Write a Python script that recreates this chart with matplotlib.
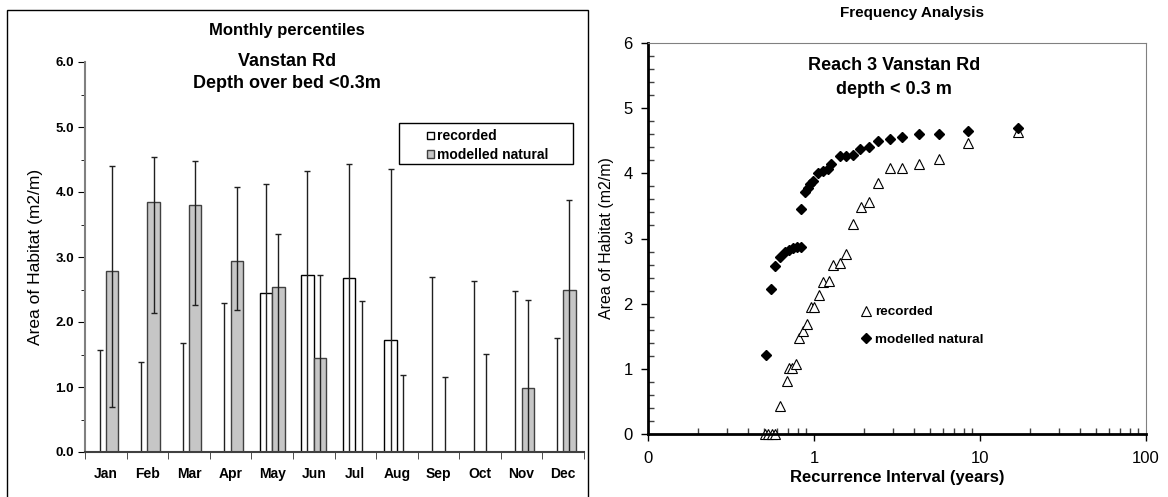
import matplotlib.pyplot as plt
import numpy as np
from matplotlib.patches import Rectangle
from matplotlib.ticker import MultipleLocator, LogLocator, NullFormatter

plt.rcParams['font.family'] = ['Liberation Sans', 'DejaVu Sans']

# ---- monthly percentiles (left) ----
months = ['Jan', 'Feb', 'Mar', 'Apr', 'May', 'Jun', 'Jul', 'Aug', 'Sep', 'Oct', 'Nov', 'Dec']
rec_median = [0, 0, 0, 0, 2.45, 2.73, 2.67, 1.72, 0, 0, 0, 0]
rec_low = [0, 0, 0, 0, 0, 0, 0, 0, 0, 0, 0, 0]
rec_high = [1.57, 1.38, 1.67, 2.30, 4.13, 4.33, 4.43, 4.36, 2.69, 2.63, 2.48, 1.76]
nat_median = [2.78, 3.84, 3.80, 2.94, 2.54, 1.44, 0, 0, 0, 0, 0.98, 2.49]
nat_low = [0.70, 2.14, 2.26, 2.19, 0, 0, 0, 0, 0, 0, 0, 0]
nat_high = [4.40, 4.54, 4.47, 4.07, 3.35, 2.73, 2.33, 1.19, 1.16, 1.51, 2.34, 3.88]
area_ticks = [0, 1, 2, 3, 4, 5, 6]
area_labels = ['0.0', '1.0', '2.0', '3.0', '4.0', '5.0', '6.0']

# ---- frequency analysis (right) ----
rec_ri = [0.505, 0.527, 0.556, 0.58, 0.628, 0.688, 0.708, 0.737, 0.776, 0.812, 0.859, 0.908,
          0.955, 1.0, 1.067, 1.13, 1.23, 1.31, 1.44, 1.55, 1.72, 1.91, 2.14, 2.43, 2.85,
          3.40, 4.28, 5.70, 8.43, 16.9]
rec_area = [0, 0, 0, 0, 0.43, 0.82, 1.02, 1.02, 1.08, 1.47, 1.58, 1.69,
            1.95, 1.95, 2.13, 2.33, 2.35, 2.60, 2.62, 2.76, 3.22, 3.48, 3.56, 3.85, 4.08,
            4.08, 4.14, 4.22, 4.47, 4.63]
nat_ri = [0.517, 0.554, 0.586, 0.628, 0.667, 0.705, 0.744, 0.787, 0.832, 0.84, 0.88, 0.92,
          0.95, 0.98, 1.06, 1.13, 1.21, 1.27, 1.43, 1.55, 1.72, 1.88, 2.13, 2.43, 2.85,
          3.40, 4.28, 5.70, 8.43, 16.9]
nat_area = [1.21, 2.22, 2.58, 2.72, 2.79, 2.82, 2.85, 2.87, 2.87, 3.45, 3.72, 3.78,
            3.84, 3.88, 4.00, 4.03, 4.07, 4.15, 4.27, 4.27, 4.28, 4.37, 4.41, 4.49, 4.52,
            4.56, 4.60, 4.61, 4.65, 4.69]
ri_ticks = [0.1, 1, 10, 100]
ri_labels = ['0', '1', '10', '100']

W, H = 1168, 497
fig = plt.figure(figsize=(W / 100, H / 100), dpi=100)

# frame round the left chart
fig.patches.append(Rectangle((7 / W, -0.02), 581 / W, 1 - 10 / H + 0.02,
                             transform=fig.transFigure, fill=False,
                             edgecolor='black', linewidth=1))

################################################################################
# Left: bar chart
ax1 = fig.add_axes([85 / W, 1 - 452 / H, 499 / W, 390 / H])
x = np.arange(len(months))
rm, rl, rh = map(np.array, (rec_median, rec_low, rec_high))
nm, nl, nh = map(np.array, (nat_median, nat_low, nat_high))

b1 = ax1.bar(x - 0.15, rm, 0.3, color='white', edgecolor='black', linewidth=1, label='recorded')
b2 = ax1.bar(x + 0.15, nm, 0.3, color='#c6c6c6', edgecolor='#404040', linewidth=1,
             label='modelled natural')
ax1.errorbar(x - 0.15, rm, yerr=[rm - rl, rh - rm], fmt='none', ecolor='#202020',
             elinewidth=1, capsize=2.5, capthick=1)
ax1.errorbar(x + 0.15, nm, yerr=[nm - nl, nh - nm], fmt='none', ecolor='#202020',
             elinewidth=1, capsize=2.5, capthick=1)

ax1.set_xlim(-0.5, 11.5)
ax1.set_ylim(0, 6)
ax1.set_xticks(x, labels=months, fontsize=10, fontweight='bold')
ax1.set_xticks(np.arange(-0.5, 12, 1), minor=True)
ax1.tick_params(axis='x', which='major', length=0, pad=11)
ax1.tick_params(axis='x', which='minor', length=5, direction='out', color='#303030')
ax1.set_yticks(area_ticks, labels=area_labels, fontsize=9.5, fontweight='bold')
ax1.yaxis.set_minor_locator(MultipleLocator(0.5))
ax1.tick_params(axis='y', which='major', length=5, pad=3)
ax1.tick_params(axis='y', which='minor', length=3)
ax1.spines['top'].set_visible(False)
ax1.spines['right'].set_visible(False)
ax1.spines['left'].set_color('#808080')
ax1.spines['left'].set_linewidth(1.5)
ax1.spines['bottom'].set_color('#404040')
ax1.spines['bottom'].set_linewidth(1.5)
ax1.set_ylabel('Area of Habitat (m2/m)', fontsize=12.5)
ax1.yaxis.set_label_coords(-0.084, 0.5)

ax1.legend(handles=[b1, b2], loc='upper left', bbox_to_anchor=(0.671, 0.845),
           frameon=False, borderpad=0, handlelength=0.5, handleheight=0.5,
           handletextpad=0.25, labelspacing=0.3, prop={'size': 10, 'weight': 'bold'})
ax1.add_patch(Rectangle((0.629, 0.7385), 0.349, 0.105, transform=ax1.transAxes,
                        fill=False, edgecolor='black', linewidth=1, clip_on=False))

fig.text(287 / W, 1 - 31 / H, 'Monthly percentiles', ha='center', va='center',
         fontsize=12, fontweight='bold')
fig.text(287 / W, 1 - 61 / H, 'Vanstan Rd', ha='center', va='center',
         fontsize=13, fontweight='bold')
fig.text(287 / W, 1 - 83 / H, 'Depth over bed <0.3m', ha='center', va='center',
         fontsize=13, fontweight='bold')

################################################################################
# Right: frequency analysis
ax2 = fig.add_axes([648 / W, 1 - 434 / H, 498 / W, 391 / H])
ax2.plot(rec_ri, rec_area, '^', ms=7, mfc='white', mec='black', mew=0.8,
         linestyle='none', label='recorded', clip_on=False)
ax2.plot(nat_ri, nat_area, 'D', ms=5, color='black', linestyle='none',
         label='modelled natural', clip_on=False)

ax2.set_xscale('log')
ax2.set_xlim(0.1, 100)
ax2.set_ylim(0, 6)
ax2.set_xticks(ri_ticks, labels=ri_labels)
ax2.xaxis.set_minor_locator(LogLocator(base=10, subs=np.arange(2, 10)))
ax2.xaxis.set_minor_formatter(NullFormatter())
ax2.yaxis.set_major_locator(MultipleLocator(1))
ax2.yaxis.set_minor_locator(MultipleLocator(0.2))
ax2.tick_params(axis='both', which='major', direction='out', length=5, width=1,
                labelsize=12)
ax2.tick_params(axis='x', which='major', pad=7)
ax2.tick_params(axis='y', which='major', pad=6)
ax2.tick_params(axis='both', which='minor', direction='in', length=4, width=1,
                color='#404040')
ax2.spines['left'].set_linewidth(2)
ax2.spines['bottom'].set_linewidth(2)
ax2.spines['top'].set_color('#808080')
ax2.spines['right'].set_color('#808080')
ax2.set_ylabel('Area of Habitat (m2/m)', fontsize=11.5)
ax2.yaxis.set_label_coords(-0.069, 0.5)
ax2.set_xlabel('Recurrence Interval (years)', fontsize=12, fontweight='bold')
ax2.xaxis.set_label_coords(0.5, -0.093)

ax2.legend(loc='upper left', bbox_to_anchor=(0.412, 0.345), frameon=False,
           borderpad=0, handlelength=0.9, handletextpad=0.2, labelspacing=1.15,
           prop={'size': 9.7, 'weight': 'bold'})

fig.text(912 / W, 1 - 13 / H, 'Frequency Analysis', ha='center', va='center',
         fontsize=11, fontweight='bold')
fig.text(894 / W, 1 - 66 / H, 'Reach 3 Vanstan Rd', ha='center', va='center',
         fontsize=13, fontweight='bold')
fig.text(894 / W, 1 - 90 / H, 'depth < 0.3 m', ha='center', va='center',
         fontsize=13, fontweight='bold')

plt.savefig('out.png', dpi=100)
plt.close()
